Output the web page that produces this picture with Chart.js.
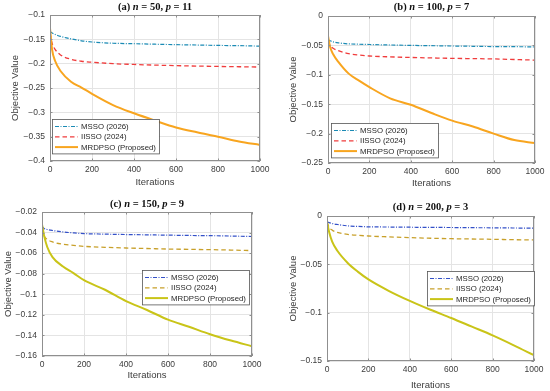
<!DOCTYPE html>
<html>
<head>
<meta charset="utf-8">
<script src="https://cdn.jsdelivr.net/npm/chart.js@4.4.1/dist/chart.umd.min.js"></script>
<style>
  html, body { margin: 0; padding: 0; background: #fff; }
  #wrap { position: relative; width: 550px; height: 391px; overflow: hidden; }
  canvas { position: absolute; }
</style>
</head>
<body>
<div id="wrap">
  <canvas id="pa"></canvas>
  <canvas id="pb"></canvas>
  <canvas id="pc"></canvas>
  <canvas id="pd"></canvas>
</div>
<script>
// ---- data ----
const iterations = [0, 10, 25, 50, 100, 150, 200, 300, 400, 500, 600, 700, 800, 900, 1000];
const xTicks = [0, 200, 400, 600, 800, 1000];
const seriesNames = ['MSSO (2026)', 'IISSO (2024)', 'MRDPSO (Proposed)'];

// (a) n = 50, p = 11
const msso_a   = [-0.134, -0.137, -0.140, -0.144, -0.149, -0.153, -0.1555, -0.158, -0.159, -0.160, -0.161, -0.1617, -0.1625, -0.163, -0.164];
const iisso_a  = [-0.137, -0.158, -0.171, -0.182, -0.191, -0.195, -0.197, -0.200, -0.2016, -0.203, -0.204, -0.205, -0.2057, -0.2063, -0.207];
const mrdpso_a = [-0.127, -0.171, -0.195, -0.215, -0.237, -0.249, -0.262, -0.285, -0.302, -0.317, -0.331, -0.341, -0.350, -0.360, -0.367];
const yTicks_a = [-0.4, -0.35, -0.3, -0.25, -0.2, -0.15, -0.1];

// (b) n = 100, p = 7
const msso_b   = [-0.040, -0.042, -0.044, -0.0457, -0.0474, -0.048, -0.0485, -0.0493, -0.050, -0.0505, -0.051, -0.0515, -0.052, -0.0522, -0.0525];
const iisso_b  = [-0.042, -0.050, -0.055, -0.059, -0.064, -0.0665, -0.068, -0.0695, -0.0705, -0.0713, -0.072, -0.0725, -0.073, -0.074, -0.075];
const mrdpso_b = [-0.034, -0.0525, -0.065, -0.078, -0.098, -0.110, -0.121, -0.140, -0.151, -0.165, -0.178, -0.188, -0.200, -0.211, -0.216];
const yTicks_b = [-0.25, -0.2, -0.15, -0.1, -0.05, 0];

// (c) n = 150, p = 9
const msso_c   = [-0.034, -0.036, -0.037, -0.038, -0.0394, -0.0403, -0.041, -0.0415, -0.0419, -0.0422, -0.0425, -0.0428, -0.043, -0.0434, -0.0438];
const iisso_c  = [-0.036, -0.043, -0.0466, -0.0491, -0.0513, -0.0525, -0.0534, -0.0543, -0.055, -0.0555, -0.056, -0.0563, -0.0566, -0.057, -0.0575];
const mrdpso_c = [-0.032, -0.043, -0.054, -0.0638, -0.073, -0.0794, -0.0863, -0.0956, -0.1066, -0.1153, -0.1247, -0.1316, -0.1388, -0.145, -0.1505];
const yTicks_c = [-0.16, -0.14, -0.12, -0.1, -0.08, -0.06, -0.04, -0.02];

// (d) n = 200, p = 3
const msso_d   = [-0.0061, -0.0068, -0.0078, -0.0088, -0.0102, -0.0108, -0.0112, -0.0114, -0.0116, -0.0118, -0.0119, -0.0121, -0.0122, -0.0124, -0.0126];
const iisso_d  = [-0.0065, -0.0115, -0.0146, -0.017, -0.019, -0.020, -0.0207, -0.0216, -0.0224, -0.023, -0.0235, -0.0238, -0.0241, -0.0245, -0.0248];
const mrdpso_d = [-0.006, -0.0163, -0.0265, -0.036, -0.0486, -0.0578, -0.0656, -0.0776, -0.0878, -0.097, -0.1055, -0.1145, -0.1235, -0.1335, -0.144];
const yTicks_d = [-0.15, -0.1, -0.05, 0];

// ---- styling ----
const SANS = '"Liberation Sans", Arial, sans-serif';
const SERIF = '"Liberation Serif", "Times New Roman", serif';
const colorsTop = ['#1a8ab4', '#f03c3c', '#f8a51f'];
const colorsBottom = ['#3350c8', '#c8a02a', '#c9c418'];
const widths = [1.2, 1.3, 2];
const dashes = [[4, 1.5, 1, 1.5], [4.5, 3], []];
const frameColor = '#8f8f8f';
const textColor = '#3c3c3c';

function fmt(v) {
  return String(+v.toFixed(4)).replace('-', '\u2212');
}

const panels = [
  { id: 'pa', tag: '(a) ', n: '50', p: '11', series: [msso_a, iisso_a, mrdpso_a], yTicks: yTicks_a, colors: colorsTop,
    canvas: { left: 0, top: 0, w: 275, h: 195 }, plot: { l: 50, t: 15, r: 260, b: 161 },
    titleY: 7, yLabelX: 15, xLabelY: 182, legend: { x: 52, y: 119 } },
  { id: 'pb', tag: '(b) ', n: '100', p: '7', series: [msso_b, iisso_b, mrdpso_b], yTicks: yTicks_b, colors: colorsTop,
    canvas: { left: 275, top: 0, w: 275, h: 195 }, plot: { l: 328, t: 16, r: 535, b: 163 },
    titleY: 7.5, yLabelX: 293, xLabelY: 183, legend: { x: 331, y: 123 } },
  { id: 'pc', tag: '(c) ', n: '150', p: '9', series: [msso_c, iisso_c, mrdpso_c], yTicks: yTicks_c, colors: colorsBottom,
    canvas: { left: 0, top: 195, w: 275, h: 196 }, plot: { l: 42, t: 212, r: 252, b: 356 },
    titleY: 204, yLabelX: 8, xLabelY: 375, legend: { x: 142, y: 270 } },
  { id: 'pd', tag: '(d) ', n: '200', p: '3', series: [msso_d, iisso_d, mrdpso_d], yTicks: yTicks_d, colors: colorsBottom,
    canvas: { left: 275, top: 195, w: 275, h: 196 }, plot: { l: 327, t: 216, r: 534, b: 361 },
    titleY: 207, yLabelX: 293, xLabelY: 385, legend: { x: 427, y: 271 } }
];

function makePanel(p) {
  const cv = document.getElementById(p.id);
  const c = p.canvas;
  cv.width = c.w;
  cv.height = c.h;
  cv.style.left = c.left + 'px';
  cv.style.top = c.top + 'px';

  const yAxisW = p.plot.l - c.left;
  const xAxisH = c.top + c.h - p.plot.b;
  const titleSize = 9.5;
  const titleLH = titleSize * 1.2;

  const datasets = p.series.map((vals, i) => ({
    label: seriesNames[i],
    data: vals.map((y, k) => ({ x: iterations[k], y: y })),
    borderColor: p.colors[i],
    borderWidth: widths[i],
    borderDash: dashes[i],
    pointRadius: 0,
    fill: false,
    cubicInterpolationMode: 'monotone',
    order: 3 - i
  }));

  // MATLAB-like box, inward ticks, in-axes legend and the math title
  const decor = {
    id: 'decor' + p.id,
    afterDatasetsDraw(chart) {
      const ctx = chart.ctx;
      const a = chart.chartArea;
      ctx.save();
      ctx.strokeStyle = frameColor;
      ctx.lineWidth = 1;
      ctx.strokeRect(Math.round(a.left) + 0.5, Math.round(a.top) + 0.5,
        Math.round(a.right - a.left) - 1, Math.round(a.bottom - a.top) - 1);
      const xs = chart.scales.x, ys = chart.scales.y;
      ctx.beginPath();
      xTicks.forEach(v => {
        const px = Math.round(xs.getPixelForValue(v)) + 0.5;
        ctx.moveTo(px, a.bottom); ctx.lineTo(px, a.bottom - 2.5);
        ctx.moveTo(px, a.top); ctx.lineTo(px, a.top + 2.5);
      });
      p.yTicks.forEach(v => {
        const py = Math.round(ys.getPixelForValue(v)) + 0.5;
        ctx.moveTo(a.left, py); ctx.lineTo(a.left + 2.5, py);
        ctx.moveTo(a.right, py); ctx.lineTo(a.right - 2.5, py);
      });
      ctx.stroke();
      ctx.restore();
    },
    afterDraw(chart) {
      const ctx = chart.ctx;
      const a = chart.chartArea;
      ctx.save();
      // title (bold, with italic n and p)
      const size = 10.5;
      const parts = [
        [p.tag, 'bold'], ['n', 'italic bold'], [' = ' + p.n + ', ', 'bold'], ['p', 'italic bold'], [' = ' + p.p, 'bold']
      ];
      let total = 0;
      parts.forEach(s => { ctx.font = s[1] + ' ' + size + 'px ' + SERIF; s.push(ctx.measureText(s[0]).width); total += s[2]; });
      let tx = (a.left + a.right) / 2 - total / 2;
      const ty = p.titleY - c.top;
      ctx.fillStyle = '#111';
      ctx.textBaseline = 'middle';
      parts.forEach(s => {
        ctx.font = s[1] + ' ' + size + 'px ' + SERIF;
        ctx.fillText(s[0], tx, ty);
        tx += s[2];
      });

      // legend
      const lf = 7.8;
      ctx.font = lf + 'px ' + SANS;
      const tw = Math.max(...chart.data.datasets.map(d => ctx.measureText(d.label).width));
      const lx = p.legend.x - c.left, ly = p.legend.y - c.top;
      const row = 10.3;
      const w = 29 + tw + 3, h = 3 * row + 3.5;
      ctx.fillStyle = '#fff';
      ctx.fillRect(lx, ly, w, h);
      ctx.strokeStyle = '#555';
      ctx.lineWidth = 0.8;
      ctx.strokeRect(lx + 0.5, ly + 0.5, w, h);
      chart.data.datasets.forEach((d, i) => {
        const yy = ly + 7.5 + i * row;
        ctx.beginPath();
        ctx.strokeStyle = d.borderColor;
        ctx.lineWidth = d.borderWidth;
        ctx.setLineDash(d.borderDash);
        ctx.moveTo(lx + 3, yy);
        ctx.lineTo(lx + 26, yy);
        ctx.stroke();
        ctx.setLineDash([]);
        ctx.fillStyle = '#262626';
        ctx.textBaseline = 'middle';
        ctx.fillText(d.label, lx + 29, yy + 0.5);
      });
      ctx.restore();
    }
  };

  return new Chart(cv, {
    type: 'line',
    data: { datasets: datasets },
    options: {
      responsive: false,
      animation: false,
      devicePixelRatio: 1,
      events: [],
      layout: { padding: { left: 0, top: p.plot.t - c.top, right: c.left + c.w - p.plot.r, bottom: 0 } },
      plugins: { legend: { display: false }, tooltip: { enabled: false } },
      scales: {
        x: {
          type: 'linear',
          min: 0,
          max: 1000,
          afterBuildTicks: s => { s.ticks = xTicks.map(v => ({ value: v })); },
          afterFit: s => { s.height = xAxisH; },
          grid: { color: '#e4e4e4', drawTicks: false },
          border: { display: false },
          ticks: { color: textColor, font: { family: SANS, size: 8.5 }, padding: 4, maxRotation: 0, callback: v => fmt(v) },
          title: {
            display: true, text: 'Iterations', color: textColor,
            font: { family: SANS, size: titleSize },
            padding: { top: 0, bottom: c.top + c.h - p.xLabelY - titleLH / 2 }
          }
        },
        y: {
          type: 'linear',
          min: p.yTicks[0],
          max: p.yTicks[p.yTicks.length - 1],
          afterBuildTicks: s => { s.ticks = p.yTicks.map(v => ({ value: v })); },
          afterFit: s => { s.width = yAxisW; },
          grid: { color: '#e4e4e4', drawTicks: false },
          border: { display: false },
          ticks: { color: textColor, font: { family: SANS, size: 8.5 }, padding: 5, callback: v => fmt(v) },
          title: {
            display: true, text: 'Objective Value', color: textColor,
            font: { family: SANS, size: titleSize },
            padding: { top: p.yLabelX - c.left - titleLH / 2, bottom: 0 }
          }
        }
      }
    },
    plugins: [decor]
  });
}

panels.forEach(makePanel);
</script>
</body>
</html>
